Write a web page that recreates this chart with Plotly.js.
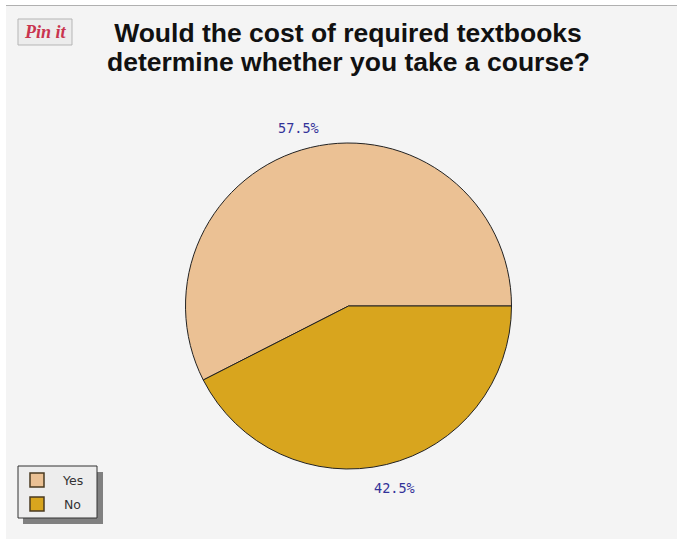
<!DOCTYPE html>
<html>
<head>
<meta charset="utf-8">
<script src="https://cdn.plot.ly/plotly-3.0.1.min.js"></script>
<style>html,body{margin:0;padding:0;background:#fff;overflow:hidden}#chart{width:677px;height:539px}</style>
</head>
<body>
<div id="chart"></div>
<script>
var categories = ["Yes", "No"];
var seriesValues = [57.5, 42.5];
var sliceColors = ["#ebc194", "#d8a51e"];
var titleLines = ["Would the cost of required textbooks", "determine whether you take a course?"];
var W = 677, H = 539;
var cx = 348.5, cy = 306, r = 163;
var labelSpots = [[298.5, 128], [395, 488]];
function px(x){return x/W;}
function py(y){return 1-y/H;}
function paperRect(x0,x1,y0,y1,fill,line){
  return {type:"rect", xref:"paper", yref:"paper", layer:"below", x0:px(x0), x1:px(x1), y0:py(y1), y1:py(y0), fillcolor:fill, line:line||{width:0}};
}
var trace = {
  type: "pie", labels: categories, values: seriesValues, sort: false,
  direction: "clockwise", rotation: -117,
  marker: {colors: sliceColors, line: {color: "#222", width: 1}},
  textinfo: "none",
  hoverinfo: "label+percent",
  domain: {x: [px(cx-r), px(cx+r)], y: [py(cy+r), py(cy-r)]}
};
var titleFont = {family: "Liberation Sans, Arial, sans-serif", size: 26.5, color: "#111", weight: "bold"};
var valueAnn = seriesValues.map(function(v,i){
  return {text:v.toFixed(1)+"%", xref:"paper", yref:"paper", x:px(labelSpots[i][0]), y:py(labelSpots[i][1]), xanchor:"center", yanchor:"middle", showarrow:false,
    font:{family:"DejaVu Sans Mono, monospace", size:13.5, color:"#333399"}};
});
var legendAnn = categories.map(function(c,i){
  return {text:c, xref:"paper", yref:"paper", x:px(72), y:py(480+i*24.5), xanchor:"center", yanchor:"middle", showarrow:false,
    font:{family:"DejaVu Sans, sans-serif", size:12.5, color:"#333"}};
});
var legendSw = categories.map(function(c,i){
  return paperRect(30,44,473+i*24,487+i*24,sliceColors[i],{color:"#4a3a20",width:1.5});
});
var layout = {
  width: W, height: H, margin: {l:0,r:0,t:0,b:0}, paper_bgcolor: "#ffffff",
  title: {text: titleLines[0], x: 348/W, xanchor: "center", y: py(33), yanchor: "middle", font: titleFont},
  showlegend: false,
  shapes: [
    paperRect(6,677,6,539,"#f4f4f4"),
    {type:"line", xref:"paper", yref:"paper", layer:"below", x0:px(6), x1:1, y0:py(5.5), y1:py(5.5), line:{color:"#b0b0b0", width:1}},
    paperRect(23,103,472,524,"#808080"),
    paperRect(18,97,466,518,"#ededed",{color:"#333",width:1})
  ].concat(legendSw).concat([
    paperRect(18,72,19,45,"#ececec",{color:"#b5b5b5",width:1})
  ]),
  annotations: [
    {text:titleLines[1], xref:"paper", yref:"paper", x:348/W, y:py(62), xanchor:"center", yanchor:"middle", showarrow:false, font:titleFont},
    {text:"<b><i>Pin it</i></b>", xref:"paper", yref:"paper", x:px(45), y:py(32), xanchor:"center", yanchor:"middle", showarrow:false,
     font:{family:"Liberation Serif, serif", size:18, color:"#c9344f"}}
  ].concat(valueAnn).concat(legendAnn)
};
Plotly.newPlot("chart", [trace], layout, {displayModeBar:false});
</script>
</body>
</html>
